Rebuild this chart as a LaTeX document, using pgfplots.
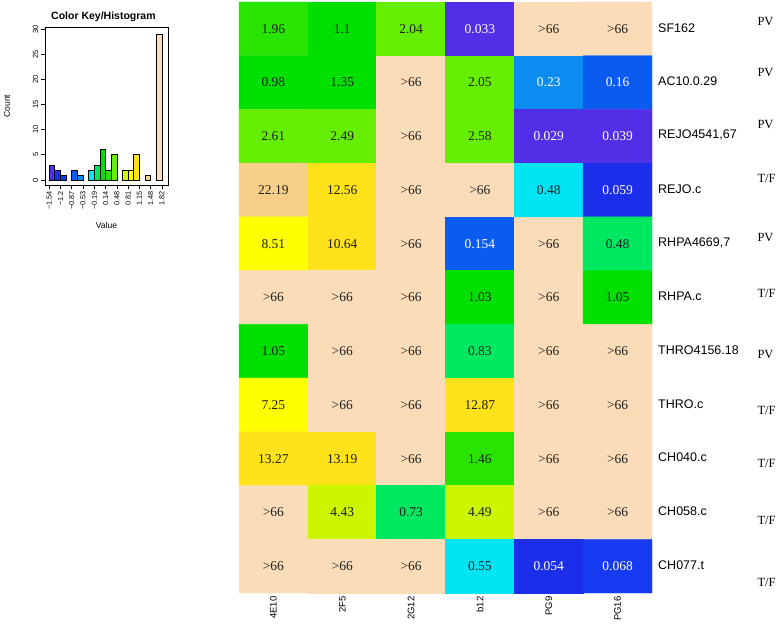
\documentclass[border=0pt]{standalone}
\usepackage{pgfplots}
\pgfplotsset{compat=1.18}
\usepackage{pgfplotstable}
\usepackage{fontspec}
\setmainfont{Liberation Serif}
\setsansfont{Liberation Sans}
\definecolor{k0}{RGB}{82,46,230}
\definecolor{k1}{RGB}{28,46,234}
\definecolor{k2}{RGB}{22,58,240}
\definecolor{k4}{RGB}{10,92,240}
\definecolor{k5}{RGB}{10,140,240}
\definecolor{k7}{RGB}{0,228,244}
\definecolor{k8}{RGB}{0,232,96}
\definecolor{k9}{RGB}{0,224,0}
\definecolor{k10}{RGB}{40,228,0}
\definecolor{k11}{RGB}{102,238,0}
\definecolor{k13}{RGB}{204,245,0}
\definecolor{k14}{RGB}{255,255,0}
\definecolor{k15}{RGB}{255,226,26}
\definecolor{k17}{RGB}{246,208,136}
\definecolor{k19}{RGB}{250,221,184}
\pgfplotsset{colormap={heat}{
 rgb255=(82,46,230) rgb255=(28,46,234) rgb255=(22,58,240) rgb255=(20,80,240)
 rgb255=(10,92,240) rgb255=(10,140,240) rgb255=(0,190,240) rgb255=(0,228,244)
 rgb255=(0,232,96) rgb255=(0,224,0) rgb255=(40,228,0) rgb255=(102,238,0)
 rgb255=(160,245,0) rgb255=(204,245,0) rgb255=(255,255,0) rgb255=(255,226,26)
 rgb255=(255,210,80) rgb255=(246,208,136) rgb255=(250,215,160) rgb255=(250,221,184)}}

\pgfplotstableread{
x y c
0 0 10
1 0 9
2 0 11
3 0 0
4 0 19
5 0 19
0 1 9
1 1 9
2 1 19
3 1 11
4 1 5
5 1 4
0 2 11
1 2 11
2 2 19
3 2 11
4 2 0
5 2 0
0 3 17
1 3 15
2 3 19
3 3 19
4 3 7
5 3 1
0 4 14
1 4 15
2 4 19
3 4 4
4 4 19
5 4 8
0 5 19
1 5 19
2 5 19
3 5 9
4 5 19
5 5 9
0 6 9
1 6 19
2 6 19
3 6 8
4 6 19
5 6 19
0 7 14
1 7 19
2 7 19
3 7 15
4 7 19
5 7 19
0 8 15
1 8 15
2 8 19
3 8 10
4 8 19
5 8 19
0 9 19
1 9 13
2 9 8
3 9 13
4 9 19
5 9 19
0 10 19
1 10 19
2 10 19
3 10 7
4 10 1
5 10 2
}\cells

\begin{document}
\begin{tikzpicture}
\useasboundingbox (0,0) rectangle (778pt,628pt);
% histogram / colour key
\begin{axis}[at={(45pt,443pt)}, anchor=south west, scale only axis,
  width=123pt, height=158pt,
  xmin=-1.66, xmax=2.0, ymin=-1, ymax=30.4,
  axis line style={line width=0.9pt},
  tick align=outside, xtick pos=bottom, ytick pos=left,
  major tick length=4.5pt, tick style={black, line width=0.7pt},
  xtick={-1.54,-1.2,-0.87,-0.53,-0.19,0.14,0.48,0.81,1.15,1.48,1.82},
  xticklabels={−1.54,−1.2,−0.87,−0.53,−0.19,0.14,0.48,0.81,1.15,1.48,1.82},
  xticklabel style={rotate=90, anchor=east, font=\sffamily\fontsize{7.3}{8}\selectfont, inner sep=1.5pt},
  ytick={0,5,...,30},
  yticklabel style={rotate=90, anchor=south, font=\sffamily\fontsize{7.5}{8}\selectfont, inner sep=2pt},
  /pgf/number format/assume math mode=true,
  xlabel={Value}, ylabel={Count},
  xlabel style={at={(axis description cs:0.5,-0.255)}, anchor=center, font=\sffamily\fontsize{8.5}{9}\selectfont},
  ylabel style={at={(axis description cs:-0.31,0.5)}, anchor=center, font=\sffamily\fontsize{8.5}{9}\selectfont},
  clip=false,
  every axis plot/.append style={ybar, bar width=0.168, bar shift=0pt, draw=black, line width=0.6pt}]
\addplot[fill=k0] coordinates {(-1.4537,3)};
\addplot[fill=k1] coordinates {(-1.2858,2)};
\addplot[fill=k2] coordinates {(-1.1180,1)};
\addplot[fill=k4] coordinates {(-0.7822,2)};
\addplot[fill=k5] coordinates {(-0.6144,1)};
\addplot[fill=k7] coordinates {(-0.2787,2)};
\addplot[fill=k8] coordinates {(-0.1108,3)};
\addplot[fill=k9] coordinates {(0.0570,6)};
\addplot[fill=k10] coordinates {(0.2249,2)};
\addplot[fill=k11] coordinates {(0.3928,5)};
\addplot[fill=k13] coordinates {(0.7285,2)};
\addplot[fill=k14] coordinates {(0.8963,2)};
\addplot[fill=k15] coordinates {(1.0642,5)};
\addplot[fill=k17] coordinates {(1.3999,1)};
\addplot[fill=k19] coordinates {(1.7357,29)};
\node[font=\sffamily\bfseries\fontsize{10.5}{11}\selectfont] at (rel axis cs:0.475,1.063) {Color Key/Histogram};
\end{axis}
% heatmap
\begin{axis}[at={(239pt,35pt)}, anchor=south west, scale only axis,
  width=413pt, height=591pt,
  xmin=-0.5, xmax=5.5, ymin=-0.5, ymax=10.5, y dir=reverse,
  axis line style={draw=none}, major tick length=0pt,
  xtick={0,...,5}, xticklabels={4E10,2F5,2G12,b12,PG9,PG16},
  xticklabel style={rotate=90, anchor=east, font=\sffamily\fontsize{9.5}{10}\selectfont},
  ytick={0,...,10},
  yticklabels={SF162,AC10.0.29,{REJO4541,67},REJO.c,{RHPA4669,7},RHPA.c,THRO4156.18,THRO.c,CH040.c,CH058.c,CH077.t},
  yticklabel pos=right,
  yticklabel style={anchor=west, font=\sffamily\fontsize{12.5}{13}\selectfont, inner sep=0pt, xshift=6pt, yshift=1pt},
  clip=false]
\addplot[matrix plot*, mesh/cols=6, point meta=explicit, colormap access=direct] table[meta=c] {\cells};
\addplot[draw=none, mark=none, nodes near coords, point meta=explicit symbolic,
  every node near coord/.append style={anchor=center, text=black!88, font=\fontsize{13.5}{14}\selectfont}]
  coordinates {
  (0,0)[1.96] (1,0)[1.1] (2,0)[2.04] (4,0)[>66] (5,0)[>66]
  (0,1)[0.98] (1,1)[1.35] (2,1)[>66] (3,1)[2.05]
  (0,2)[2.61] (1,2)[2.49] (2,2)[>66] (3,2)[2.58]
  (0,3)[22.19] (1,3)[12.56] (2,3)[>66] (3,3)[>66] (4,3)[0.48]
  (0,4)[8.51] (1,4)[10.64] (2,4)[>66] (4,4)[>66] (5,4)[0.48]
  (0,5)[>66] (1,5)[>66] (2,5)[>66] (3,5)[1.03] (4,5)[>66] (5,5)[1.05]
  (0,6)[1.05] (1,6)[>66] (2,6)[>66] (3,6)[0.83] (4,6)[>66] (5,6)[>66]
  (0,7)[7.25] (1,7)[>66] (2,7)[>66] (3,7)[12.87] (4,7)[>66] (5,7)[>66]
  (0,8)[13.27] (1,8)[13.19] (2,8)[>66] (3,8)[1.46] (4,8)[>66] (5,8)[>66]
  (0,9)[>66] (1,9)[4.43] (2,9)[0.73] (3,9)[4.49] (4,9)[>66] (5,9)[>66]
  (0,10)[>66] (1,10)[>66] (2,10)[>66] (3,10)[0.55]
  };
\addplot[draw=none, mark=none, nodes near coords, point meta=explicit symbolic,
  every node near coord/.append style={anchor=center, text=white, font=\fontsize{13.5}{14}\selectfont}]
  coordinates {
  (3,0)[0.033] (4,1)[0.23] (5,1)[0.16] (4,2)[0.029] (5,2)[0.039]
  (5,3)[0.059] (3,4)[0.154] (4,10)[0.054] (5,10)[0.068]
  };
\begin{scope}[every node/.style={anchor=west, inner sep=0pt, font=\fontsize{12.5}{13}\selectfont}]
\node at (axis cs:7.03,-0.128) {PV};
\node at (axis cs:7.03,0.803) {PV};
\node at (axis cs:7.03,1.789) {PV};
\node at (axis cs:7.03,2.776) {T/F};
\node at (axis cs:7.03,3.892) {PV};
\node at (axis cs:7.03,4.916) {T/F};
\node at (axis cs:7.03,6.070) {PV};
\node at (axis cs:7.03,7.094) {T/F};
\node at (axis cs:7.03,8.080) {T/F};
\node at (axis cs:7.03,9.141) {T/F};
\node at (axis cs:7.03,10.295) {T/F};
\end{scope}
\end{axis}
\end{tikzpicture}
\end{document}
